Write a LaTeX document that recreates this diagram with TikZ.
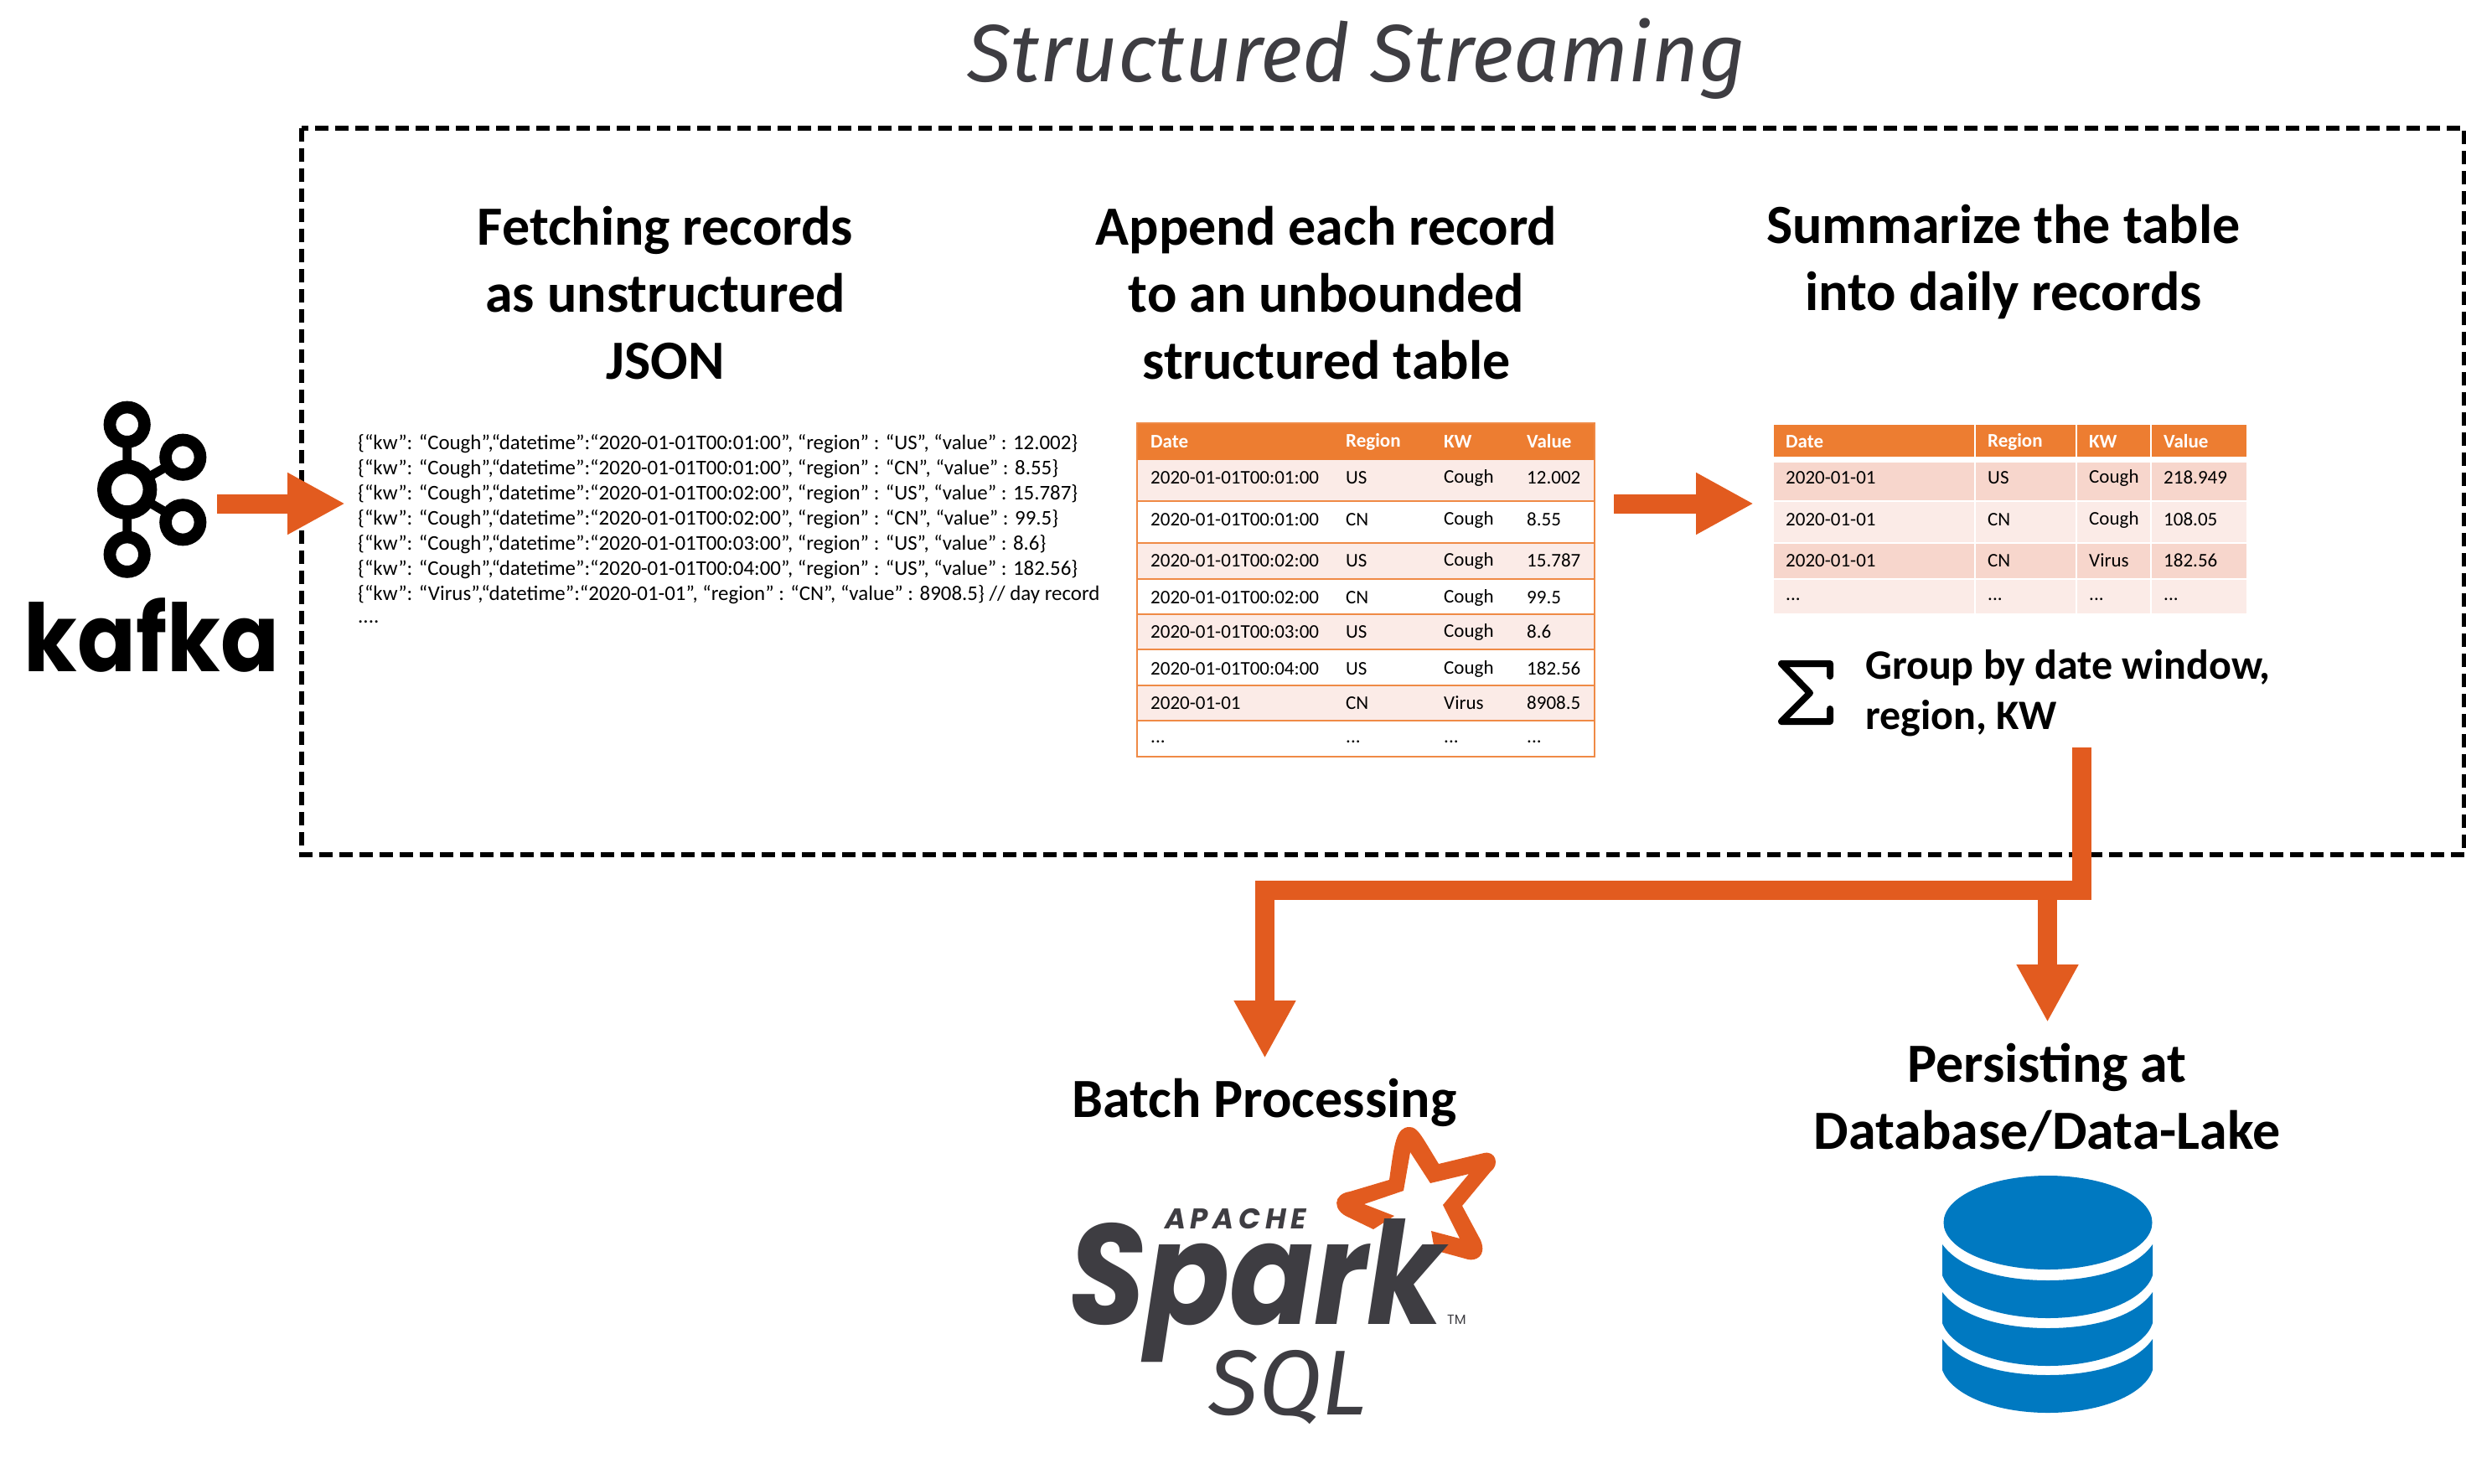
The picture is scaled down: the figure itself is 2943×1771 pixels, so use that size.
\documentclass[tikz,border=0pt]{standalone}
\usepackage{fontspec}
\setmainfont{Carlito}
\newfontfamily\popf{Poppins}
\newfontfamily\titlef{Fira Sans}
\usetikzlibrary{arrows.meta}
\definecolor{orarrow}{HTML}{E25B1F}
\definecolor{hdr}{HTML}{ED7D31}
\definecolor{rowa}{HTML}{FBEBE7}
\definecolor{rowb}{HTML}{F7D6CC}
\definecolor{sparkgray}{HTML}{3E3D42}
\definecolor{dbblue}{HTML}{0079C1}
\newcommand\tdots{...}
\tikzset{
  heading/.style={font=\fontsize{66}{80}\selectfont\bfseries,align=center,inner sep=0pt},
  json/.style={font=\fontsize{24.9}{30}\selectfont,anchor=west,inner sep=0pt},
  cell/.style={font=\fontsize{23}{28}\selectfont,anchor=west,inner sep=0pt,text=black},
  hcell/.style={font=\fontsize{23}{28}\selectfont\bfseries,anchor=west,inner sep=0pt,text=white},
  flow/.style={draw=orarrow,line width=23pt,-{Triangle[length=69pt,width=69pt]}},
}
\begin{document}
\begin{tikzpicture}[x=1pt,y=-1pt]
\useasboundingbox (0,0) rectangle (2943,1771);
% title
\node[inner sep=0pt,anchor=base,text=sparkgray,font=\fontsize{97}{100}\selectfont\titlef\itshape] (title) at (1619,98) {Structured Streaming};
% dashed frame
\draw[line width=5.3pt,dash pattern=on 16pt off 8pt] (360,153) rectangle (2941,1020);
% headings
\node[heading] (h1) at (794,350) {Fetching records\\as unstructured\\JSON};
\node[heading] (h2) at (1583,350) {Append each record\\to an unbounded\\structured table};
\node[heading] (h3) at (2391,313) {Summarize the table\\into daily records};
\node[heading] (h4) at (1509,1316) {Batch Processing};
\node[heading] (h5) at (2443,1310) {Persisting at\\Database/Data-Lake};
% JSON
\node[json] (j1) at (427,530) {\{“kw”: “Cough”,“datetime”:“2020-01-01T00:01:00”, “region” : “US”, “value” : 12.002\}};
\node[json] (j2) at (427,560) {\{“kw”: “Cough”,“datetime”:“2020-01-01T00:01:00”, “region” : “CN”, “value” : 8.55\}};
\node[json] (j3) at (427,590) {\{“kw”: “Cough”,“datetime”:“2020-01-01T00:02:00”, “region” : “US”, “value” : 15.787\}};
\node[json] (j4) at (427,620) {\{“kw”: “Cough”,“datetime”:“2020-01-01T00:02:00”, “region” : “CN”, “value” : 99.5\}};
\node[json] (j5) at (427,650) {\{“kw”: “Cough”,“datetime”:“2020-01-01T00:03:00”, “region” : “US”, “value” : 8.6\}};
\node[json] (j6) at (427,680) {\{“kw”: “Cough”,“datetime”:“2020-01-01T00:04:00”, “region” : “US”, “value” : 182.56\}};
\node[json] (j7) at (427,710) {\{“kw”: “Virus”,“datetime”:“2020-01-01”, “region” : “CN”, “value” : 8908.5\} // day record};
\node[json] (j8) at (427,742) {....};
% table 1
\fill[hdr] (1356,505) rectangle (1904,549);
\foreach \a/\b/\c in {549/598/rowa,598/648/white,648/691/rowa,691/733/white,733/775/rowa,775/818/white,818/860/rowa,860/903/white}
  \fill[\c] (1356,\a) rectangle (1904,\b);
\draw[hdr!90!white,line width=2.5pt] (1357,505) rectangle (1903,903);
\foreach \a in {598,648,691,733,775,818,860}
  \draw[hdr!90!white,line width=2.5pt] (1357,\a) -- (1903,\a);
\node[hcell] (ah1) at (1373,527) {Date};
\node[hcell] (ah2) at (1606,527) {Region};
\node[hcell] (ah3) at (1723,527) {KW};
\node[hcell] (ah4) at (1822,527) {Value};
\foreach \n/\y/\d/\r/\k/\v in {
 1/570/2020-01-01T00:01:00/US/Cough/12.002,
 2/620/2020-01-01T00:01:00/CN/Cough/8.55,
 3/669/2020-01-01T00:02:00/US/Cough/15.787,
 4/713/2020-01-01T00:02:00/CN/Cough/99.5,
 5/754/2020-01-01T00:03:00/US/Cough/8.6,
 6/798/2020-01-01T00:04:00/US/Cough/182.56,
 7/839/2020-01-01/CN/Virus/8908.5,
 8/885/\tdots/\tdots/\tdots/\tdots}{
  \node[cell] (a\n d) at (1373,\y) {\d};
  \node[cell] (a\n r) at (1606,\y) {\r};
  \node[cell] (a\n k) at (1723,\y) {\k};
  \node[cell] (a\n v) at (1822,\y) {\v};
}
% table 2
\foreach \xa/\xb in {2117/2356,2358/2477,2479/2566,2568/2681}{
  \fill[hdr] (\xa,507) rectangle (\xb,545);
  \fill[rowb] (\xa,552) rectangle (\xb,597);
  \fill[rowa] (\xa,599) rectangle (\xb,647);
  \fill[rowb] (\xa,649) rectangle (\xb,690);
  \fill[rowa] (\xa,692) rectangle (\xb,732);
}
\node[hcell] (bh1) at (2131,527) {Date};
\node[hcell] (bh2) at (2372,527) {Region};
\node[hcell] (bh3) at (2493,527) {KW};
\node[hcell] (bh4) at (2582,527) {Value};
\foreach \n/\y/\d/\r/\k/\v in {
 1/570/2020-01-01/US/Cough/218.949,
 2/620/2020-01-01/CN/Cough/108.05,
 3/669/2020-01-01/CN/Virus/182.56,
 4/715/\tdots/\tdots/\tdots/\tdots}{
  \node[cell] (b\n d) at (2131,\y) {\d};
  \node[cell] (b\n r) at (2372,\y) {\r};
  \node[cell] (b\n k) at (2493,\y) {\k};
  \node[cell] (b\n v) at (2582,\y) {\v};
}
% sigma + group text
\draw[line width=8pt,line join=round,line cap=round] (2184,807) -- (2184,792) -- (2126,792) -- (2160,827) -- (2126,861) -- (2184,861) -- (2184,846);
\node[inner sep=0pt,anchor=west,align=left,font=\fontsize{50}{60}\selectfont\bfseries] (group) at (2226,827) {Group by date window,\\region, KW};
% kafka logo
\draw[line width=10.7pt] (151.7,507) -- (151.7,662) (151.7,584) -- (218.3,545.7) (151.7,584) -- (218.3,623.3);
\foreach \cx/\cy in {151.7/506.7,218.3/545.7,218.3/623.3,151.7/661.7}{
  \draw[line width=14.7pt,fill=white] (\cx,\cy) circle[radius=20.7pt];
}
\draw[line width=16.7pt,fill=white] (151.7,584.3) circle[radius=27.3pt];
\node[inner sep=0pt,anchor=base,font=\fontsize{112}{112}\selectfont\popf\bfseries] (kafka) at (181,801) {\scalebox{0.92}[1]{kafka}};
% flow arrows
\coordinate (a1s) at (259,601); \coordinate (a1e) at (412,601);
\coordinate (a2s) at (1926,601); \coordinate (a2e) at (2093,601);
\draw[flow] (a1s) -- (a1e);
\draw[flow] (a2s) -- (a2e);
\coordinate (outs) at (2484,892); \coordinate (bend) at (2484,1062.5);
\coordinate (e1) at (1509.5,1263); \coordinate (e2) at (2443.5,1220);
\draw[flow] (outs) -- (bend) -| (e1);
\draw[flow] (e2 |- bend) -- (e2);
% spark logo
\fill[orarrow] (1658,1408) .. controls (1664,1365) and (1666,1345) .. (1682,1345) .. controls (1692,1345) and (1696,1355) .. (1717,1389) -- (1771,1376) .. controls (1785,1373) and (1790,1390) .. (1779,1398) -- (1745,1439) -- (1767,1480) .. controls (1775,1500) and (1760,1505) .. (1752,1503) -- (1712,1492) -- (1708,1469) -- (1742,1478) -- (1722,1438) -- (1753,1401) -- (1707,1412) -- (1683,1375) -- (1675,1421) -- (1628,1437) -- (1664,1451) -- (1639,1467) -- (1610,1453) .. controls (1590,1445) and (1590,1425) .. (1611,1422) -- cycle;
\node[inner sep=0pt,anchor=base west,text=sparkgray,font=\fontsize{148}{148}\selectfont\popf\bfseries\itshape] (spark) at (1275,1580) {\scalebox{1}[1.15]{Spark}};
\node[inner sep=0pt,anchor=base west,text=sparkgray,font=\fontsize{34}{34}\selectfont\popf\bfseries\itshape] (apache) at (1390,1466) {A\,P\,A\,C\,H\,E};
\node[inner sep=0pt,anchor=base west,text=sparkgray,font=\fontsize{16}{16}\selectfont\popf] (tm) at (1727,1580) {TM};
\node[inner sep=0pt,anchor=base,text=sparkgray,font=\fontsize{110}{110}\selectfont\titlef\itshape] (sql) at (1537,1688) {SQL};
% database
\fill[dbblue] (2444,1459) ellipse[x radius=124.5pt,y radius=56pt];
\foreach \y in {1485,1542,1598}{
 \fill[dbblue] (2318,\y) .. controls (2340,\y+30) and (2390,\y+43) .. (2444,\y+43) .. controls (2498,\y+43) and (2548,\y+30) .. (2569,\y) -- (2569,\y+37) .. controls (2560,\y+65) and (2510,\y+88) .. (2444,\y+88) .. controls (2378,\y+88) and (2328,\y+65) .. (2318,\y+37) -- cycle;
}
\end{tikzpicture}
\end{document}
